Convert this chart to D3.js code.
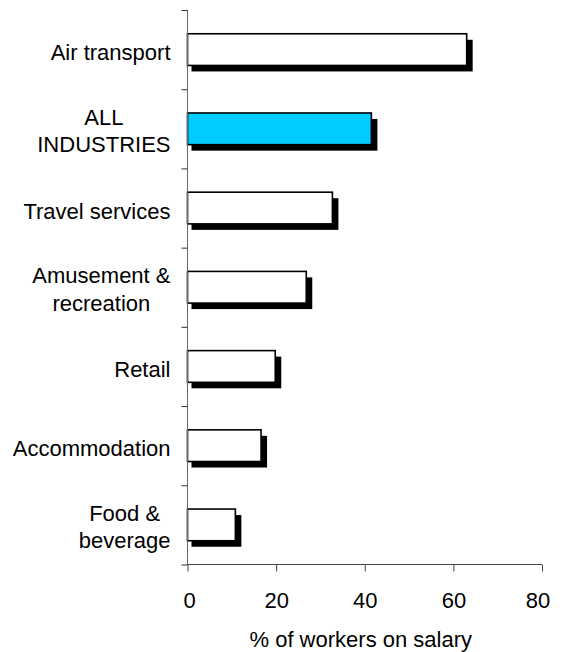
<!DOCTYPE html>
<html>
<head>
<meta charset="utf-8">
<script src="https://cdn.jsdelivr.net/npm/d3@7"></script>
<style>
  html, body { margin: 0; padding: 0; background: #fff; }
  svg { display: block; font-family: "Liberation Sans", Arial, sans-serif; }
</style>
</head>
<body>
<svg id="chart" width="563" height="652"></svg>
<script>
// ---- data ----
const categories = ["Air transport", "ALL INDUSTRIES", "Travel services", "Amusement & recreation", "Retail", "Accommodation", "Food & beverage"];
const labelLines = [["Air transport"], ["ALL", "INDUSTRIES"], ["Travel services"], ["Amusement &", "recreation"], ["Retail"], ["Accommodation"], ["Food &", "beverage"]];
const values = [63, 41.5, 32.7, 26.8, 19.8, 16.6, 10.8];
const highlight = ["ALL INDUSTRIES"];
const xTicks = [0, 20, 40, 60, 80];
const xTitle = "% of workers on salary";

// ---- layout ----
const svg = d3.select("#chart");
const x0 = 187.5, x1 = 542, yTop = 10, yBot = 564.5;
const fontSize = 22;

const x = d3.scaleLinear().domain([0, 80]).range([x0, x1]);
const y = d3.scaleBand().domain(categories).range([yTop, yBot]).paddingInner(0.6).paddingOuter(0.3);
const yBounds = d3.scaleLinear().domain([0, categories.length]).range([yTop, yBot]);

const data = categories.map((c, i) => ({ cat: c, value: values[i], lines: labelLines[i] }));

// shadows
svg.append("g").selectAll("rect").data(data).join("rect")
  .attr("x", x(0) + 4)
  .attr("y", d => y(d.cat) + 6)
  .attr("width", d => x(d.value) - x(0) + 2)
  .attr("height", y.bandwidth())
  .attr("fill", "#000");

// bars
svg.append("g").selectAll("rect").data(data).join("rect")
  .attr("x", x(0))
  .attr("y", d => y(d.cat))
  .attr("width", d => x(d.value) - x(0))
  .attr("height", y.bandwidth())
  .attr("fill", d => highlight.includes(d.cat) ? "#00CCFF" : "#fff")
  .attr("stroke", "#000")
  .attr("stroke-width", 1.6);

// y axis (category boundaries ticks)
const yAxis = svg.append("g").attr("transform", `translate(${x0},0)`)
  .call(d3.axisLeft(yBounds).tickValues(d3.range(categories.length + 1)).tickSize(6).tickFormat(""));
yAxis.select(".domain").attr("stroke", "#666").attr("d", `M0,${yTop}V${yBot}`);
yAxis.selectAll(".tick line").attr("stroke", "#333");

// x axis
const xAxis = svg.append("g").attr("transform", `translate(0,${yBot})`)
  .call(d3.axisBottom(x).tickValues(xTicks).tickSize(7).tickPadding(21).tickFormat(d3.format("d")));
xAxis.select(".domain").attr("stroke", "#444").attr("d", `M${x0},0H${x1}`);
xAxis.selectAll(".tick line").attr("stroke", "#444");
xAxis.selectAll(".tick text").attr("font-size", fontSize).attr("fill", "#000")
  .attr("font-family", "Liberation Sans, Arial, sans-serif")
  .attr("dx", (d, i) => i === xTicks.length - 1 ? -4.5 : (i === 0 ? 1.5 : 0));

// category labels
const lineH = 27.5;
const labelRight = 170.5;
const lg = svg.append("g").attr("font-size", fontSize).attr("fill", "#000");
data.forEach(d => {
  const c = y(d.cat) + y.bandwidth() / 2;
  const n = d.lines.length;
  const g = lg.append("g");
  const texts = d.lines.map((t, i) => g.append("text")
    .attr("y", c + 10.5 - (n - 1) * lineH / 2 - (n > 1 ? 1 : 0) + i * lineH)
    .attr("text-anchor", "middle")
    .text(t));
  const maxW = d3.max(texts, t => t.node().getComputedTextLength());
  texts.forEach(t => t.attr("x", labelRight - maxW / 2));
});

// x title
svg.append("text")
  .attr("x", (x0 + x1) / 2 - 4)
  .attr("y", 647)
  .attr("text-anchor", "middle")
  .attr("font-size", fontSize)
  .attr("fill", "#000")
  .text(xTitle);
</script>
</body>
</html>
